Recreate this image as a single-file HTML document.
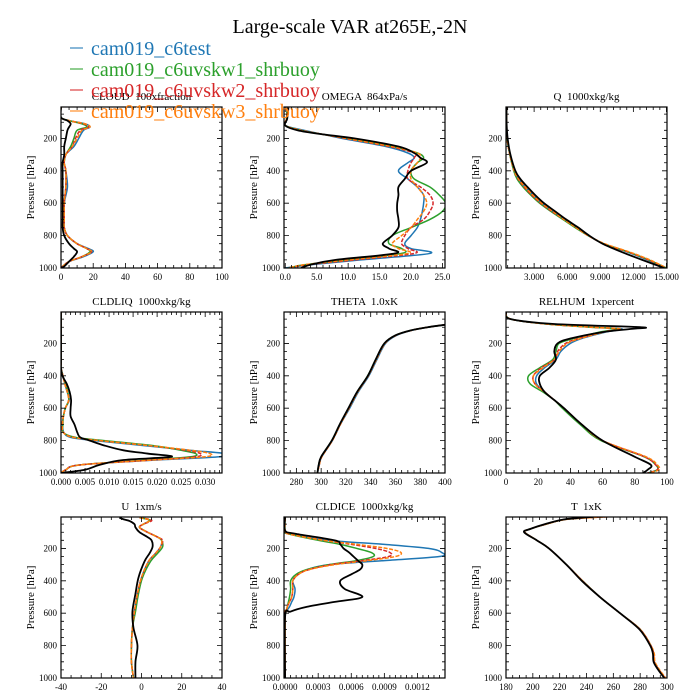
<!DOCTYPE html>
<html><head><meta charset="utf-8"><style>
html,body{margin:0;padding:0;background:#fff;}
svg{display:block;font-family:"Liberation Serif",serif;}
text{white-space:pre;}
</style></head><body>
<svg id="chart" width="700" height="700" viewBox="0 0 700 700"></svg>
<script>
// ---- data ----
const seriesNames = ["cam019_c6test","cam019_c6uvskw1_shrbuoy","cam019_c6uvskw2_shrbuoy","cam019_c6uvskw3_shrbuoy"];
const panelTitles = ["CLOUD  100xfraction","OMEGA  864xPa/s","Q  1000xkg/kg","CLDLIQ  1000xkg/kg","THETA  1.0xK","RELHUM  1xpercent","U  1xm/s","CLDICE  1000xkg/kg","T  1xK"];
const pTicks = [200,400,600,800,1000];

const cloudP = [10,70,90,110,130,150,200,250,300,350,400,500,600,700,750,800,850,880,900,930,960,990,1000];
const cloudBlue = [0,0,5,15,18,14,11,8,3,2,3,4,2,2,2,4,10,17,20,14,5,1,0];
const cloudGreen = [0,0,5,13,16,10,8,6,3,2,3,3,2,2,2,4,10,16,18,13,5,1,0];
const cloudRed = [0,0,5,14,17,12,9,7,3,2,3,3,2,2,2,4,10,16,19,13,5,1,0];
const cloudOrange = [0,0,5,15,18,13,10,7,3,2,3,3,2,2,2,4,10,16,19,13,5,1,0];
const cloudBlack = [0,0,4,6,5,4,3,2,2,1,1,1,1,1,1,2,5,8,10,8,5,2,0];

const omegaP = [10,80,120,150,175,200,250,290,320,350,400,450,500,550,600,650,700,750,800,850,880,910,950,980,1000];
const omegaBlue = [0.3,0.2,0,3,6,9,16,19.5,20.5,19.5,18,19.5,21,22,22,21.8,21.5,21,20,19,20,23,12,4,0];
const omegaGreen = [0.3,0.2,0,2.5,6,10,17,21,22,21,20,20.5,23,24.5,25.5,25,23,20,17,16.5,18.5,18.5,10,3,0.5];
const omegaRed = [0.3,0.2,0,2.5,6,9.5,16.5,20.5,20.5,20,19.5,19.5,21.5,23,23.5,23,22,20,19,18.5,19.5,20.5,11,3.5,0.5];
const omegaOrange = [0.3,0.2,0,2.5,6,9.8,17,21,21.5,21,20,20,21,22,22.5,22,21,20,18.5,17,18,19.5,10,3,0.5];
const omegaBlack = [0.5,0.3,0,2,6,11,18,20.5,21.5,22.5,20,19,18,18,17.8,17.8,18,18,17,15.5,16.5,17.5,8,4,2.5];

const qP = [10,100,200,300,400,450,500,550,600,650,700,750,800,850,900,950,1000];
const qBlue = [0.5,0.5,0.55,0.8,1.2,1.6,2.2,2.9,3.7,4.7,5.7,6.8,7.9,9.3,11.4,13.3,15];
const qGreen = [0.5,0.5,0.55,0.8,1.15,1.45,2.0,2.7,3.5,4.5,5.6,6.7,7.9,9.3,11.5,13.4,15];
const qRed = [0.5,0.5,0.55,0.8,1.2,1.55,2.1,2.8,3.6,4.6,5.7,6.8,7.9,9.3,11.5,13.4,15];
const qOrange = [0.5,0.5,0.55,0.8,1.2,1.6,2.2,2.9,3.7,4.7,5.7,6.8,7.9,9.4,11.6,13.5,15];
const qBlack = [0.5,0.5,0.6,0.85,1.3,1.75,2.4,3.1,3.9,4.9,5.9,7.0,8.0,9.2,10.9,12.8,14.8];

const liqP = [10,300,350,400,450,500,550,600,650,700,750,780,800,830,860,880,900,920,950,980,1000];
const liqBlue = [0,0,0,0.0004,0.0008,0.0013,0.0017,0.0009,0.0005,0.0003,0.0006,0.002,0.007,0.017,0.027,0.034,0.033,0.02,0.004,0.001,0];
const liqGreen = [0,0,0,0.0004,0.0009,0.0014,0.0016,0.0009,0.0005,0.0004,0.0005,0.003,0.009,0.019,0.025,0.028,0.027,0.018,0.004,0.001,0];
const liqRed = [0,0,0,0.0004,0.0008,0.0013,0.0016,0.0009,0.0005,0.0003,0.0005,0.0026,0.008,0.018,0.026,0.029,0.028,0.019,0.004,0.001,0];
const liqOrange = [0,0,0,0.0004,0.0008,0.0013,0.0016,0.0009,0.0005,0.0003,0.0005,0.0025,0.008,0.018,0.027,0.031,0.030,0.019,0.004,0.001,0];
const liqBlack = [0,0,0,0.0003,0.0012,0.0018,0.0021,0.002,0.002,0.0028,0.0034,0.004,0.006,0.009,0.013,0.018,0.023,0.013,0.008,0.005,0];

const thetaP = [85,100,120,150,200,300,400,500,600,700,800,900,950,1000];
const thetaBlue = [400,386,373,361,352,345,338.5,330,323,315.5,309,300.5,298.5,297];
const thetaGreen = [400,386,372,360,351,344,337.5,329,322,315,308.5,300,298,297];
const thetaRed = [400,386,372.5,360.5,351.5,344.5,338,329.5,322.5,315.5,309,300.5,298.5,297];
const thetaOrange = [400,386,372.5,360.5,351.5,344.5,338,329.5,322.5,315.5,309,300.5,298.5,297];
const thetaBlack = [400,386,372,360,351,344,337.7,329,322,315,308.6,300,298,297];

const rhP = [10,50,80,100,110,130,170,200,250,300,350,400,450,500,550,600,700,800,900,950,980,1000];
const rhBlue = [0,3,25,55,72,62,47,40,34,31,24,19,19,24,30,36,47,60,86,93,94,88];
const rhGreen = [0,3,25,52,69,58,42,33,31,29,21,14,15,23,30,35,46,59,86,93,94,88];
const rhRed = [0,3,25,53,70,60,45,37,32,30,22,17,18,24,30,36,47,60,86,93,94,88];
const rhOrange = [0,3,25,54,71,61,46,38,33,30,23,17,18,24,30,36,47,60,87,94,95,89];
const rhBlack = [0,3,30,84,78,60,40,32,30,31,27,21,21,24,30,36,47,60,80,90,88,85];

const uP = [10,20,30,50,70,100,130,150,190,230,280,380,480,590,690,800,900,1000];
const uBlue = [-1,3,4,1,-1,3,8,10,9.5,7,3.5,0,-2,-3.5,-4.5,-5,-5,-4];
const uGreen = [-1,3,4,1,-1,3,8,10,10.5,8,4.5,0.5,-1.5,-3,-4.5,-5,-5,-4];
const uRed = [-1,3.5,5,1,-1,3,8,10.5,9.5,7,3.5,0,-2,-3.5,-4.5,-5,-5,-4];
const uOrange = [-1,3,4,1,-1,3,8,10,9.5,7,3.5,0,-2,-3.5,-4.5,-5,-5,-4];
const uBlack = [-11,-9,-6,-3.5,-3,-1,3,5,5.5,4,1.5,-1.5,-3,-4.5,-4,-2,-3,-3];

const iceP = [10,90,110,150,175,200,225,250,275,300,330,360,400,450,500,530,560,590,620,1000];
const iceBlue = [0,0,0.00003,0.0004,0.0009,0.0013,0.00142,0.0014,0.0009,0.0004,0.0002,0.00012,0.00007,0.00009,0.00008,0.00006,0.00004,0.00001,0,0];
const iceGreen = [0,0,0.00003,0.0003,0.0005,0.00065,0.00078,0.0008,0.00065,0.0004,0.0002,0.0001,0.00005,0.00005,0.00004,0.00003,0.00002,0.00001,0,0];
const iceRed = [0,0,0.00003,0.00035,0.0006,0.00082,0.00095,0.00094,0.0007,0.00042,0.00022,0.00012,0.00007,0.00007,0.00006,0.00004,0.00002,0.00001,0,0];
const iceOrange = [0,0,0.00003,0.00035,0.00065,0.00092,0.00105,0.001,0.00075,0.00045,0.00022,0.00012,0.00007,0.00007,0.00006,0.00004,0.00002,0.00001,0,0];
const iceBlack = [0,0,0.0001,0.00045,0.0005,0.00053,0.00058,0.00062,0.00066,0.0007,0.00068,0.0006,0.0005,0.00054,0.0007,0.00045,0.0002,0.00005,0,0];

const tP = [5,20,50,80,100,150,200,300,400,500,600,700,800,850,900,950,1000];
const tBlue = [252,225,210,198,194,203,212,225,237,250,265,280,288,290,290.5,294,298.5];
const tGreen = [252,225,210,198,194,203,212,225,237,250,265,280,288,290,290.5,294,298.5];
const tRed = [254,225,210,198,194,203,212,225,237,250,265,280,288,290,290.5,294,298.5];
const tOrange = [256,226,210,198,194,203,212,225,237,250,265,280,288,290.5,291,294.5,299];
const tBlack = [245,224,209,198,193.5,203,212,225,236.5,250,265,279.5,287.5,289.5,290,293.5,298];

const cloudTicks = [0,20,40,60,80,100];
const omegaTicks = [0,5,10,15,20,25];
const qTicks = [3,6,9,12,15];
const liqTicks = [0,0.005,0.01,0.015,0.02,0.025,0.03];
const thetaTicks = [280,300,320,340,360,380,400];
const rhTicks = [0,20,40,60,80,100];
const uTicks = [-40,-20,0,20,40];
const iceTicks = [0,0.0003,0.0006,0.0009,0.0012];
const tTicks = [180,200,220,240,260,280,300];

// ---- layout ----
const NS = "http://www.w3.org/2000/svg";
const svg = document.getElementById("chart");
const colX = [61,284,506], rowY = [107,312,517], PW = 161, PH = 161;
const colors = ["#1f77b4","#2ca02c","#d62728","#ff7f0e","#000000"];
const P0 = 6, P1 = 1000;

const panels = [
 {name:"cloud", p:cloudP, s:[cloudBlue,cloudGreen,cloudRed,cloudOrange,cloudBlack], x0:0, x1:100, ticks:cloudTicks, minor:5, fmt:v=>String(v)},
 {name:"omega", p:omegaP, s:[omegaBlue,omegaGreen,omegaRed,omegaOrange,omegaBlack], x0:-0.2, x1:25.4, ticks:omegaTicks, minor:1, fmt:v=>v.toFixed(1)},
 {name:"q", p:qP, s:[qBlue,qGreen,qRed,qOrange,qBlack], x0:0.45, x1:15.05, ticks:qTicks, minor:0.6, fmt:v=>v.toFixed(3)},
 {name:"cldliq", p:liqP, s:[liqBlue,liqGreen,liqRed,liqOrange,liqBlack], x0:0, x1:0.0335, ticks:liqTicks, minor:0.001, fmt:v=>v.toFixed(3)},
 {name:"theta", p:thetaP, s:[thetaBlue,thetaGreen,thetaRed,thetaOrange,thetaBlack], x0:270, x1:400, ticks:thetaTicks, minor:5, fmt:v=>String(v)},
 {name:"relhum", p:rhP, s:[rhBlue,rhGreen,rhRed,rhOrange,rhBlack], x0:0, x1:100, ticks:rhTicks, minor:5, fmt:v=>String(v)},
 {name:"u", p:uP, s:[uBlue,uGreen,uRed,uOrange,uBlack], x0:-40, x1:40, ticks:uTicks, minor:5, fmt:v=>String(v)},
 {name:"cldice", p:iceP, s:[iceBlue,iceGreen,iceRed,iceOrange,iceBlack], x0:-0.00001, x1:0.00145, ticks:iceTicks, minor:0.00005, fmt:v=>v.toFixed(4)},
 {name:"t", p:tP, s:[tBlue,tGreen,tRed,tOrange,tBlack], x0:180, x1:300, ticks:tTicks, minor:5, fmt:v=>String(v)}
];

function mk(tag, attrs, parent){
  const e = document.createElementNS(NS, tag);
  for (const k in attrs) e.setAttribute(k, attrs[k]);
  (parent||svg).appendChild(e);
  return e;
}

// Catmull-Rom smoothing through the data points
function smoothPath(pts){
  let d = `M${pts[0][0].toFixed(2)},${pts[0][1].toFixed(2)}`;
  for (let i = 0; i < pts.length - 1; i++) {
    const p0 = pts[Math.max(0,i-1)], p1 = pts[i], p2 = pts[i+1], p3 = pts[Math.min(pts.length-1,i+2)];
    const c1x = p1[0] + (p2[0]-p0[0])/6, c1y = p1[1] + (p2[1]-p0[1])/6;
    const c2x = p2[0] - (p3[0]-p1[0])/6, c2y = p2[1] - (p3[1]-p1[1])/6;
    d += `C${c1x.toFixed(2)},${c1y.toFixed(2)} ${c2x.toFixed(2)},${c2y.toFixed(2)} ${p2[0].toFixed(2)},${p2[1].toFixed(2)}`;
  }
  return d;
}

panels.forEach((pn, i) => {
  const L = colX[i%3], T = rowY[Math.floor(i/3)];
  const xs = v => L + (v - pn.x0)/(pn.x1 - pn.x0)*PW;
  const ys = p => T + (p - P0)/(P1 - P0)*PH;
  const g = mk("g", {});
  
  

  const title = mk("text", {x:L+PW/2, y:T-7, "text-anchor":"middle", "font-size":"11"}, g);
  title.textContent = panelTitles[i];
  
  

  const yl = mk("text", {x:0, y:0, "text-anchor":"middle", "font-size":"11", transform:`translate(${L-27},${T+PH/2}) rotate(-90)`}, g);
  yl.textContent = "Pressure [hPa]";
  
  

  const cp = mk("clipPath", {id:"clip"+i}, g);
  mk("rect", {x:L, y:T, width:PW, height:PH}, cp);

  [0,1,2,3,4].forEach(k => {
    const pts = pn.p.map((p, j) => [xs(pn.s[k][j]), ys(p)]);
    const ln = mk("path", {d:smoothPath(pts), fill:"none", stroke:colors[k], "stroke-width": k==4 ? 1.8 : 1.5, "stroke-linejoin":"round", "clip-path":`url(#clip${i})`}, g);
    if (k==2 || k==3) ln.setAttribute("stroke-dasharray","4,1.5");
    
    
  });

  const fr = mk("rect", {x:L, y:T, width:PW, height:PH, fill:"none", stroke:"#000", "stroke-width":1.2}, g);
  
  

  let d = "";
  for (let p = 50; p <= 1000; p += 50) {
    const y = ys(p), len = (p % 200 == 0) ? 5 : 3;
    d += `M${L},${y}h${len}M${L+PW},${y}h${-len}`;
  }
  const start = Math.ceil(pn.x0 / pn.minor - 1e-6);
  for (let n = start; n * pn.minor <= pn.x1 + 1e-12; n++) {
    const v = n * pn.minor, x = xs(v);
    const major = pn.ticks.some(t => Math.abs(t - v) < pn.minor*0.01);
    const len = major ? 5 : 3;
    d += `M${x},${T+PH}v${-len}M${x},${T}v${len}`;
  }
  const tk = mk("path", {d:d, stroke:"#000", "stroke-width":0.8, fill:"none"}, g);
  
  

  pTicks.forEach(p => {
    const t = mk("text", {x:L-4, y:ys(p)+3, "text-anchor":"end", "font-size":"9"}, g);
    t.textContent = p;
    
    
  });
  pn.ticks.forEach(v => {
    const t = mk("text", {x:xs(v), y:T+PH+12, "text-anchor":"middle", "font-size":"9"}, g);
    t.textContent = pn.fmt(v);
    
    
  });
});

const mt = mk("text", {x:350, y:33, "text-anchor":"middle", "font-size":"20"});
mt.textContent = "Large-scale VAR at265E,-2N";



const lg = mk("g", {});


seriesNames.forEach((nm, k) => {
  const by = 55 + k*21;
  const ln = mk("line", {x1:70, x2:83, y1:by-7, y2:by-7, stroke:colors[k], "stroke-width":1.5, opacity:0.7}, lg);
  
  
  const t = mk("text", {x:91, y:by, "font-size":"20", fill:colors[k]}, lg);
  t.textContent = nm;
  
  
});
</script>
</body></html>
